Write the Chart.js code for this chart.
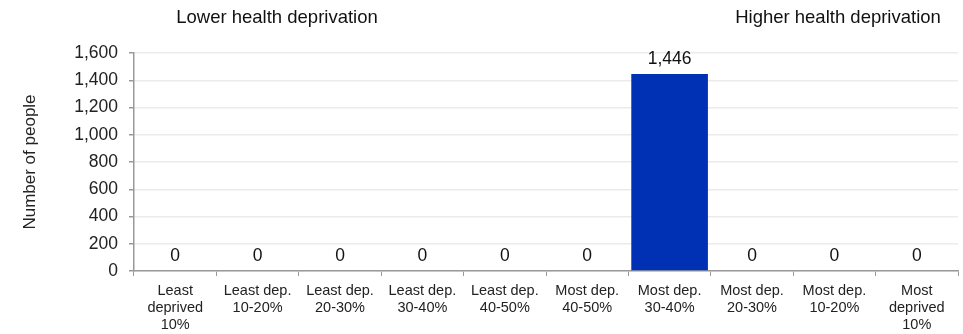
<!DOCTYPE html>
<html>
<head>
<meta charset="utf-8">
<script src="https://cdn.jsdelivr.net/npm/chart.js@4"></script>
<style>
  html, body { margin: 0; padding: 0; background: #fff; }
  #wrap { width: 963px; height: 334px; }
</style>
</head>
<body>
<div id="wrap"><canvas id="grafico" width="963" height="334"></canvas></div>
<script>
// dados
const categorias = [
  ['Least', 'deprived', '10%'],
  ['Least dep.', '10-20%'],
  ['Least dep.', '20-30%'],
  ['Least dep.', '30-40%'],
  ['Least dep.', '40-50%'],
  ['Most dep.', '40-50%'],
  ['Most dep.', '30-40%'],
  ['Most dep.', '20-30%'],
  ['Most dep.', '10-20%'],
  ['Most', 'deprived', '10%']
];
const pessoas = [0, 0, 0, 0, 0, 0, 1446, 0, 0, 0];
const yTicks = [0, 200, 400, 600, 800, 1000, 1200, 1400, 1600];
const cabecalhos = ['Lower health deprivation', 'Higher health deprivation'];

const fonte = 'Liberation Sans, Arial, sans-serif';

// rótulos de valor + cabeçalhos
const rotulosPlugin = {
  id: 'rotulos',
  afterDatasetsDraw(chart) {
    const c = chart.ctx;
    const meta = chart.getDatasetMeta(0);
    c.save();
    c.fillStyle = '#111';
    c.font = '17.5px ' + fonte;
    c.textAlign = 'center';
    c.textBaseline = 'bottom';
    meta.data.forEach((bar, i) => {
      const v = pessoas[i];
      c.fillText(v.toLocaleString('en-GB'), bar.x, bar.y - 6);
    });
    c.font = '18.5px ' + fonte;
    c.textBaseline = 'middle';
    c.fillText(cabecalhos[0], 277, 18);
    c.fillText(cabecalhos[1], 838, 18);
    c.restore();
  }
};

const ctx = document.getElementById('grafico').getContext('2d');
new Chart(ctx, {
  type: 'bar',
  data: {
    labels: categorias,
    datasets: [{
      data: pessoas,
      backgroundColor: '#0030b4',
      barPercentage: 0.93,
      categoryPercentage: 1
    }]
  },
  options: {
    responsive: false,
    animation: false,
    layout: { padding: { top: 53, right: 5, left: 0, bottom: 0 } },
    plugins: {
      legend: { display: false },
      tooltip: { enabled: false }
    },
    scales: {
      x: {
        afterFit: (s) => { s.height = 63; },
        grid: { drawOnChartArea: false, tickLength: 5, color: '#999', offset: true },
        border: { color: '#999', width: 1.5 },
        ticks: {
          color: '#222', font: { size: 14.5, family: fonte, lineHeight: 1.15 }, padding: 7,
          maxRotation: 0, autoSkip: false
        }
      },
      y: {
        min: 0, max: 1600,
        afterFit: (s) => { s.width = 134; },
        afterBuildTicks: (s) => { s.ticks = yTicks.map(v => ({ value: v })); },
        grid: { color: '#ebebeb', tickColor: '#999', tickLength: 5, lineWidth: 1.5 },
        border: { color: '#999', width: 1.5 },
        ticks: {
          color: '#222', font: { size: 17.5, family: fonte }, padding: 11,
          callback: (v) => v.toLocaleString('en-GB')
        },
        title: {
          display: true, text: 'Number of people', color: '#222',
          font: { size: 17, family: fonte }, padding: { top: 20, bottom: 0 }
        }
      }
    }
  },
  plugins: [rotulosPlugin]
});
</script>
</body>
</html>
